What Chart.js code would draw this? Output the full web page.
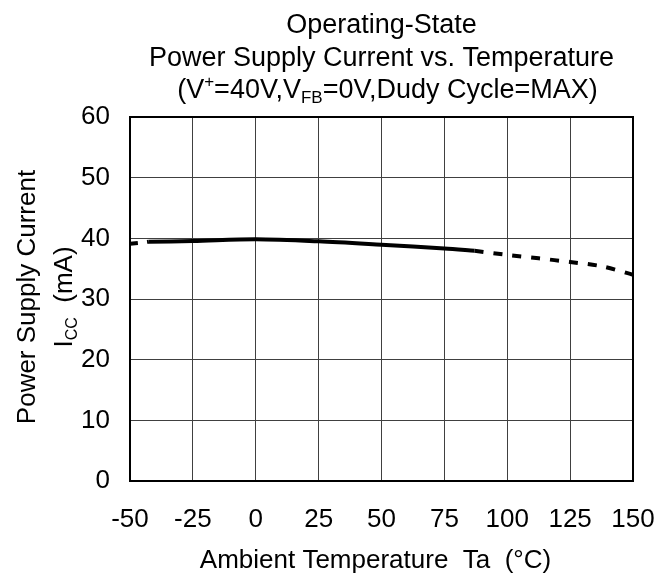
<!DOCTYPE html>
<html>
<head>
<meta charset="utf-8">
<script src="https://cdn.jsdelivr.net/npm/chart.js@4.4.1/dist/chart.umd.min.js"></script>
<style>
  html, body { margin: 0; padding: 0; background: #fff; }
  canvas { display: block; }
</style>
</head>
<body>
<canvas id="iccChart" width="671" height="579"></canvas>
<script>
// measured curve (solid) and the extrapolated parts (dashed)
const tempSolid = [-42.5, -25, 0, 25, 50, 75, 87];
const iccSolid = [39.45, 39.55, 39.83, 39.5, 38.94, 38.33, 37.95];
const tempDashLow = [-50, -42.5];
const iccDashLow = [39.1, 39.45];
const tempDashHigh = [87, 100, 112.5, 125, 137.5, 150];
const iccDashHigh = [37.95, 37.27, 36.7, 36.1, 35.4, 34.0];

const xTicks = [-50, -25, 0, 25, 50, 75, 100, 125, 150];
const yTicks = [0, 10, 20, 30, 40, 50, 60];

const FONT = "Liberation Sans, Arial, sans-serif";

function toPoints(xs, ys) {
  return xs.map((x, i) => ({ x: x, y: ys[i] }));
}

// draws a line of text with sub/superscript pieces, centred on cx
function richText(ctx, parts, cx, baseY, size) {
  const small = Math.round(size * 0.62);
  let total = 0;
  parts.forEach(p => {
    ctx.font = (p.s ? small : size) + "px " + FONT;
    p.w = ctx.measureText(p.t).width;
    total += p.w;
  });
  let x = cx - total / 2;
  ctx.textAlign = "left";
  ctx.textBaseline = "alphabetic";
  parts.forEach(p => {
    ctx.font = (p.s ? small : size) + "px " + FONT;
    let dy = 0;
    if (p.s === "sup") dy = -size * 0.42;
    if (p.s === "sub") dy = size * 0.2;
    ctx.fillText(p.t, x, baseY + dy);
    x += p.w;
  });
}

const labelsPlugin = {
  id: "labelsPlugin",
  beforeDatasetsDraw(chart) {
    const a = chart.chartArea;
    const ctx = chart.ctx;
    ctx.save();
    ctx.strokeStyle = "#000";
    ctx.lineWidth = 2;
    ctx.strokeRect(a.left, a.top, a.right - a.left, a.bottom - a.top);
    ctx.restore();
  },
  afterDraw(chart) {
    const a = chart.chartArea;
    const ctx = chart.ctx;
    const cx = (a.left + a.right) / 2;
    ctx.save();
    ctx.fillStyle = "#000";
    richText(ctx, [{ t: "Operating-State" }], cx, 33, 27);
    richText(ctx, [{ t: "Power Supply Current vs. Temperature" }], cx, 66, 27);
    richText(ctx, [
      { t: "(V" }, { t: "+", s: "sup" }, { t: "=40V,V" }, { t: "FB", s: "sub" },
      { t: "=0V,Dudy Cycle=MAX)" }
    ], cx + 6, 98, 27);

    richText(ctx, [{ t: "Ambient Temperature  Ta  (°C)" }], cx - 6, 568, 26);

    const cy = (a.top + a.bottom) / 2 - 2;
    ctx.translate(0, cy);
    ctx.rotate(-Math.PI / 2);
    richText(ctx, [{ t: "Power Supply Current" }], 0, 35, 26);
    richText(ctx, [{ t: "I" }, { t: "CC", s: "sub" }, { t: "  (mA)" }], 0, 72, 26);
    ctx.restore();
  }
};

const lineStyle = {
  borderColor: "#000",
  borderWidth: 4,
  pointRadius: 0,
  showLine: true,
  tension: 0.3,
  fill: false
};

new Chart(document.getElementById("iccChart"), {
  type: "scatter",
  data: {
    datasets: [
      Object.assign({ data: toPoints(tempSolid, iccSolid) }, lineStyle),
      Object.assign({ data: toPoints(tempDashLow, iccDashLow), borderDash: [8, 9] }, lineStyle),
      Object.assign({ data: toPoints(tempDashHigh, iccDashHigh), borderDash: [9, 10] }, lineStyle)
    ]
  },
  options: {
    responsive: false,
    devicePixelRatio: 1,
    animation: false,
    layout: { padding: { left: 0, top: 117, right: 38, bottom: 0 } },
    plugins: {
      legend: { display: false },
      tooltip: { enabled: false },
      title: { display: false }
    },
    scales: {
      x: {
        type: "linear",
        min: -50,
        max: 150,
        afterBuildTicks: s => { s.ticks = xTicks.map(v => ({ value: v })); },
        afterFit: s => { s.height = 98; s.paddingLeft = 0; s.paddingRight = 0; },
        grid: { color: "#404040", lineWidth: 1, drawTicks: false },
        border: { display: false },
        ticks: { color: "#000", padding: 23, maxRotation: 0, font: { family: FONT, size: 26 } }
      },
      y: {
        min: 0,
        max: 60,
        afterBuildTicks: s => { s.ticks = yTicks.map(v => ({ value: v })); },
        afterFit: s => { s.width = 130; s.paddingTop = 0; s.paddingBottom = 0; },
        grid: { color: "#404040", lineWidth: 1, drawTicks: false },
        border: { display: false },
        ticks: { color: "#000", padding: 20, font: { family: FONT, size: 26 } }
      }
    }
  },
  plugins: [labelsPlugin]
});
</script>
</body>
</html>
